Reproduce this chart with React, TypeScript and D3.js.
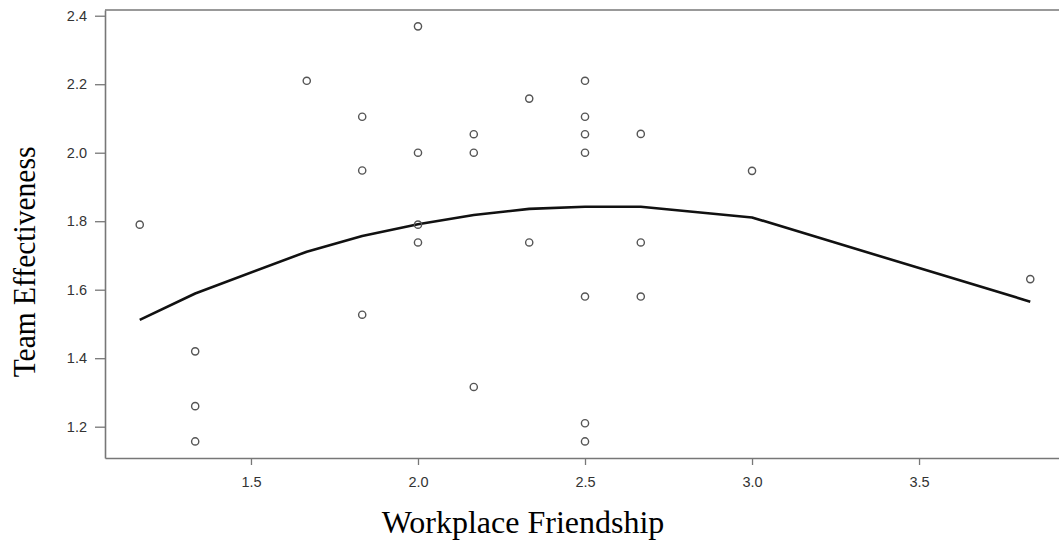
import React, { useRef, useEffect } from "react";
import * as d3 from "d3";

// scatter points: workplace friendship (x) vs team effectiveness (y)
const friendship = [
  1.167, 1.333, 1.333, 1.333, 1.667, 1.833, 1.833, 1.833,
  2.0, 2.0, 2.0, 2.0, 2.167, 2.167, 2.167, 2.333, 2.333,
  2.5, 2.5, 2.5, 2.5, 2.5, 2.5, 2.5, 2.667, 2.667, 2.667,
  3.0, 3.833,
];
const effectiveness = [
  1.79, 1.42, 1.26, 1.157, 2.21, 2.105, 1.948, 1.527,
  2.369, 2.0, 1.79, 1.738, 2.054, 2.0, 1.316, 2.158, 1.738,
  2.21, 2.105, 2.054, 2.0, 1.58, 1.21, 1.157, 2.055, 1.738, 1.58,
  1.947, 1.631,
];

// fitted curve
const fitX = [1.167, 1.333, 1.667, 1.833, 2.0, 2.167, 2.333, 2.5, 2.667, 3.0, 3.833];
const fitY = [1.512, 1.589, 1.711, 1.757, 1.791, 1.818, 1.836, 1.842, 1.842, 1.811, 1.565];

const xTicks = [1.5, 2.0, 2.5, 3.0, 3.5];
const yTicks = [1.2, 1.4, 1.6, 1.8, 2.0, 2.2, 2.4];

const ScatterChart = ({ width, height }: { width: number; height: number }) => {
  const svgRef = useRef<SVGSVGElement>(null);

  useEffect(() => {
    const svg = d3.select(svgRef.current);
    svg.selectAll("*").remove();

    const margin = { top: 10, right: 0, bottom: 83, left: 105 };
    const innerWidth = width - margin.left - margin.right;
    const innerHeight = height - margin.top - margin.bottom;

    const xScale = d3.scaleLinear().domain([1.063, 3.919]).range([0, innerWidth]);
    const yScale = d3.scaleLinear().domain([1.1086, 2.4167]).range([innerHeight, 0]);

    const g = svg.append("g").attr("transform", `translate(${margin.left},${margin.top})`);

    const axisColor = "#777";

    // top border
    g.append("line")
      .attr("x1", 0).attr("x2", innerWidth)
      .attr("y1", 0).attr("y2", 0)
      .attr("stroke", axisColor).attr("stroke-width", 1.6);

    // x axis
    const xAxis = g.append("g")
      .attr("transform", `translate(0,${innerHeight})`)
      .call(d3.axisBottom(xScale).tickValues(xTicks).tickFormat(d3.format(".1f")).tickSize(7).tickSizeOuter(0).tickPadding(12));
    xAxis.select(".domain").attr("stroke", axisColor).attr("stroke-width", 1.6);

    // y axis
    const yAxis = g.append("g")
      .call(d3.axisLeft(yScale).tickValues(yTicks).tickFormat(d3.format(".1f")).tickSize(10).tickSizeOuter(0).tickPadding(8));
    yAxis.select(".domain").attr("stroke", axisColor).attr("stroke-width", 1.6);

    svg.selectAll(".tick line").attr("stroke", axisColor).attr("stroke-width", 1.3);
    svg.selectAll(".tick text")
      .attr("fill", "#333")
      .style("font-family", "'Liberation Sans', Arial, sans-serif")
      .style("font-size", "14.5px");

    // fit line
    const line = d3.line<number>()
      .x((_, i) => xScale(fitX[i]))
      .y(d => yScale(d));
    g.append("path")
      .datum(fitY)
      .attr("d", line)
      .attr("fill", "none")
      .attr("stroke", "#111")
      .attr("stroke-width", 2.6)
      .attr("stroke-linejoin", "round");

    // points
    g.selectAll("circle")
      .data(friendship)
      .enter()
      .append("circle")
      .attr("cx", d => xScale(d))
      .attr("cy", (_, i) => yScale(effectiveness[i]))
      .attr("r", 3.6)
      .attr("fill", "none")
      .attr("stroke", "#555")
      .attr("stroke-width", 1.4);

    // axis titles
    svg.append("text")
      .attr("x", 523)
      .attr("y", 533)
      .attr("text-anchor", "middle")
      .style("font-family", "'Liberation Serif', 'Times New Roman', serif")
      .style("font-size", "32px")
      .attr("fill", "#000")
      .text("Workplace Friendship");

    svg.append("text")
      .attr("transform", "translate(35,262) rotate(-90) scale(1,1.08)")
      .attr("text-anchor", "middle")
      .style("font-family", "'Liberation Serif', 'Times New Roman', serif")
      .style("font-size", "29.5px")
      .attr("fill", "#000")
      .text("Team Effectiveness");
  }, [width, height]);

  return <svg ref={svgRef} width={width} height={height} style={{ display: "block" }} />;
};

export default function App() {
  return (
    <div style={{ position: "absolute", left: 0, top: 0, background: "#fff" }}>
      <ScatterChart width={1059} height={541} />
    </div>
  );
}
